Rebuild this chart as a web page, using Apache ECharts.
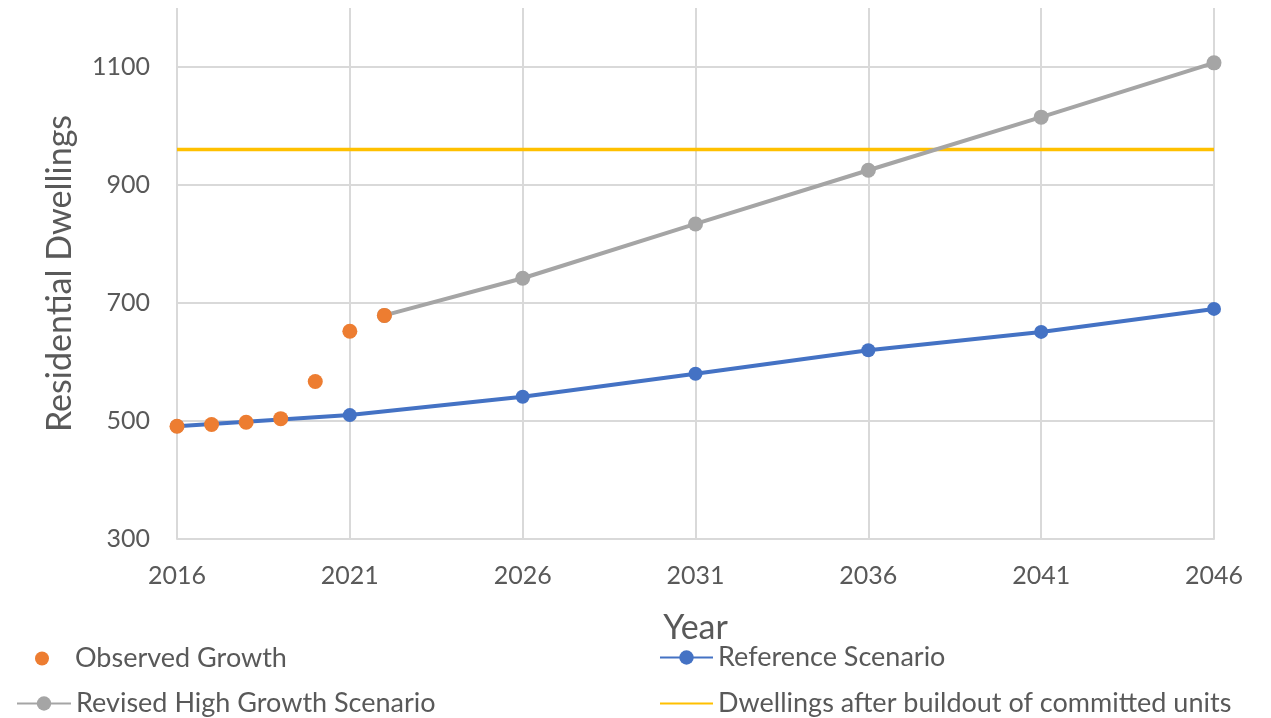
<!DOCTYPE html>
<html>
<head>
<meta charset="utf-8">
<script src="https://cdn.jsdelivr.net/npm/echarts@6/dist/echarts.min.js"></script>
<style>
html,body{margin:0;padding:0;background:#fff;}
#chart{width:1271px;height:718px;}
</style>
</head>
<body>
<div id="chart"></div>
<script>
const observedYears = [2016, 2017, 2018, 2019, 2020, 2021, 2022];
const observedValues = [491, 494, 498, 504, 567, 652, 679];
const referenceYears = [2016, 2021, 2026, 2031, 2036, 2041, 2046];
const referenceValues = [491, 510, 541, 580, 620, 651, 690];
const highYears = [2022, 2026, 2031, 2036, 2041, 2046];
const highValues = [679, 742, 834, 925, 1015, 1107];
const buildoutYears = [2016, 2046];
const buildoutValues = [960, 960];
const seriesNames = ['Observed Growth', 'Reference Scenario', 'Revised High Growth Scenario', 'Dwellings after buildout of committed units'];
const xAxisName = 'Year';
const yAxisName = 'Residential Dwellings';

const pair = (xs, ys) => xs.map((x, i) => [x, ys[i]]);
const FONT = 'Lato';
const TXT = '#595959';
const GRID = '#d9d9d9';

const chart = echarts.init(document.getElementById('chart'));
const legendText = {color: TXT, fontSize: 27, fontFamily: FONT};
chart.setOption({
  animation: false,
  grid: {left: 177, right: 57, top: 8, bottom: 179, containLabel: false},
  xAxis: {
    type: 'value', min: 2016, max: 2046, interval: 5,
    name: xAxisName, nameLocation: 'middle', nameGap: 72,
    nameTextStyle: {color: TXT, fontSize: 34, fontFamily: FONT},
    axisLine: {show: true, lineStyle: {color: GRID, width: 2}},
    axisTick: {show: false},
    axisLabel: {color: TXT, fontSize: 25, fontFamily: FONT, margin: 24, formatter: v => String(v)},
    splitLine: {show: true, lineStyle: {color: GRID, width: 2}}
  },
  yAxis: {
    type: 'value', min: 300, max: 1200, interval: 200,
    name: yAxisName, nameLocation: 'middle', nameGap: 100,
    nameTextStyle: {color: TXT, fontSize: 34, fontFamily: FONT},
    axisLine: {show: false}, axisTick: {show: false},
    axisLabel: {color: TXT, fontSize: 25, fontFamily: FONT, margin: 27, showMaxLabel: false, formatter: v => String(v)},
    splitLine: {show: true, showMaxLine: false, lineStyle: {color: GRID, width: 2}}
  },
  legend: [
    {data: [{name: seriesNames[0], icon: 'circle'}], left: 35, top: 645, padding: 0, itemWidth: 14, itemHeight: 14,
     textStyle: Object.assign({padding: [0, 0, 0, 21]}, legendText)},
    {data: [seriesNames[1]], left: 659, top: 644, padding: 0, itemWidth: 53, itemHeight: 18, textStyle: legendText},
    {data: [seriesNames[2]], left: 16, top: 690, padding: 0, itemWidth: 54, itemHeight: 18, textStyle: legendText},
    {data: [seriesNames[3]], left: 659, top: 690, padding: 0, itemWidth: 53, itemHeight: 18, textStyle: legendText,
     itemStyle: {color: 'rgba(0,0,0,0)', borderWidth: 0}}
  ],
  series: [
    {
      name: seriesNames[0], type: 'scatter', data: pair(observedYears, observedValues),
      symbol: 'circle', symbolSize: 15, itemStyle: {color: '#ED7D31', opacity: 1}, z: 5
    },
    {
      name: seriesNames[1], type: 'line', data: pair(referenceYears, referenceValues),
      symbol: 'circle', symbolSize: 14, showSymbol: true,
      lineStyle: {color: '#4472C4', width: 4}, itemStyle: {color: '#4472C4'}, z: 3
    },
    {
      name: seriesNames[2], type: 'line', data: pair(highYears, highValues),
      symbol: 'circle', symbolSize: 15, showSymbol: true,
      lineStyle: {color: '#A5A5A5', width: 4}, itemStyle: {color: '#A5A5A5'}, z: 3
    },
    {
      name: seriesNames[3], type: 'line', data: pair(buildoutYears, buildoutValues),
      symbol: 'none', lineStyle: {color: '#FFC000', width: 3.5}, itemStyle: {color: '#FFC000'}, z: 2
    }
  ]
});
</script>
</body>
</html>
